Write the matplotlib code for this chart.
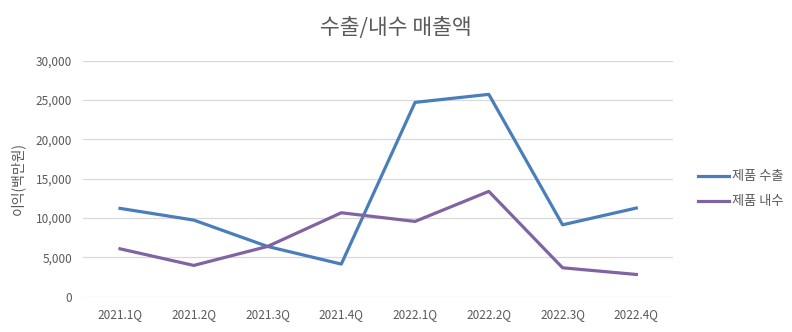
import matplotlib.pyplot as plt

plt.rcParams['font.family'] = ['Noto Sans CJK KR', 'DejaVu Sans']

# --------- Data ---------
quarters = ["2021.1Q", "2021.2Q", "2021.3Q", "2021.4Q",
            "2022.1Q", "2022.2Q", "2022.3Q", "2022.4Q"]
export_sales = [11240, 9750, 6400, 4160, 24710, 25730, 9150, 11280]
domestic_sales = [6100, 3990, 6400, 10680, 9580, 13400, 3690, 2840]
yticks = [0, 5000, 10000, 15000, 20000, 25000, 30000]

TEXT = "#595959"

# --------- Plot ---------
fig = plt.figure(figsize=(7.92, 3.32), dpi=100)
ax = fig.add_axes([0.105, 0.106, 0.745, 0.711])

x = range(len(quarters))
ax.plot(x, export_sales, color="#4a7ebb", lw=2.3, label="제품 수출")
ax.plot(x, domestic_sales, color="#8064a2", lw=2.3, label="제품 내수")

ax.set_xlim(-0.5, len(quarters) - 0.5)
ax.set_ylim(0, 30000)
ax.set_yticks(yticks)
ax.set_yticklabels([f"{v:,}" for v in yticks])
ax.set_xticks(list(x))
ax.set_xticklabels(quarters)
ax.tick_params(colors=TEXT, labelsize=8.5, length=0, pad=8)
ax.grid(axis="y", color="#d9d9d9", lw=0.9)
ax.set_axisbelow(True)
for s in ax.spines.values():
    s.set_visible(False)

ax.set_ylabel("이익(백만원)", color=TEXT, fontsize=10, labelpad=8)
fig.suptitle("수출/내수 매출액", color=TEXT, fontsize=15.5, y=0.95)

fig.legend(loc="center left", bbox_to_anchor=(0.866, 0.43), frameon=False,
           fontsize=9.5, labelcolor=TEXT, handlelength=2.4, handletextpad=0.2,
           labelspacing=0.9)

plt.savefig("out.png", dpi=100)
